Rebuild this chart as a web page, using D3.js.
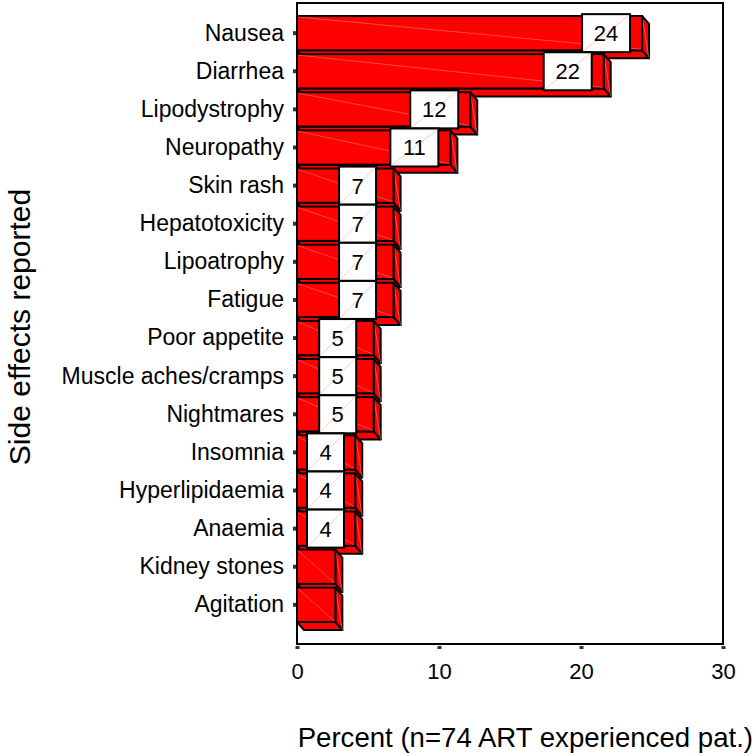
<!DOCTYPE html>
<meta charset="utf-8">
<style>
body { margin: 0; background: #fff; }
text { font-family: "Liberation Sans", Arial, sans-serif; fill: #000; }
</style>
<svg width="755" height="756"></svg>
<script src="https://d3js.org/d3.v7.min.js"></script>
<script>

var categories = ["Nausea", "Diarrhea", "Lipodystrophy", "Neuropathy", "Skin rash",
  "Hepatotoxicity", "Lipoatrophy", "Fatigue", "Poor appetite", "Muscle aches/cramps",
  "Nightmares", "Insomnia", "Hyperlipidaemia", "Anaemia", "Kidney stones", "Agitation"]
var percents = [24.3, 21.6, 12.2, 10.8, 6.8, 6.8, 6.8, 6.8, 5.4, 5.4, 5.4, 4.1, 4.1, 4.1, 2.7, 2.7]
var valueLabels = ["24", "22", "12", "11", "7", "7", "7", "7", "5", "5", "5", "4", "4", "4", "", ""]
var xTicks = [0, 10, 20, 30]

var svg = d3.select("svg")

var x = d3.scaleLinear().domain([0, 30]).range([297, 723])
var y = d3.scaleBand().domain(categories).range([16, 622]).paddingInner(0.1)

var dx = 7, dy = 8   // depth of the 3d bars

// frame
svg.append("rect")
  .attr("x", 297).attr("y", 3)
  .attr("width", 426).attr("height", 641)
  .attr("fill", "none").attr("stroke", "#000").attr("stroke-width", 2)

// bars, top to bottom so the next one hides the previous bottom face
categories.forEach(function(c, i) {
  var x0 = x(0), x1 = x(percents[i])
  var y0 = y(c), y1 = y(c) + y.bandwidth()
  var g = svg.append("g")

  // bottom face
  g.append("path")
    .attr("d", "M" + x0 + "," + y1 + "L" + (x0 + dx) + "," + (y1 + dy) + "L" + (x1 + dx) + "," + (y1 + dy) + "L" + x1 + "," + y1 + "Z")
    .attr("fill", "#ff0000").attr("stroke", "#000").attr("stroke-width", 2).attr("stroke-linejoin", "round")
  // side face
  g.append("path")
    .attr("d", "M" + x1 + "," + y0 + "L" + (x1 + dx) + "," + (y0 + dy) + "L" + (x1 + dx) + "," + (y1 + dy) + "L" + x1 + "," + y1 + "Z")
    .attr("fill", "#ff0000").attr("stroke", "#000").attr("stroke-width", 2).attr("stroke-linejoin", "round")
  g.append("line")
    .attr("x1", x1).attr("y1", y0).attr("x2", x1 + dx).attr("y2", y1 + dy)
    .attr("stroke", "#ff9a9a").attr("stroke-width", 0.5)
  // front face
  g.append("rect")
    .attr("x", x0).attr("y", y0)
    .attr("width", x1 - x0).attr("height", y1 - y0)
    .attr("fill", "#ff0000").attr("stroke", "#000").attr("stroke-width", 2)
  g.append("line")
    .attr("x1", x0 + 1).attr("y1", y0 + 1).attr("x2", x1 - 1).attr("y2", y1 - 1)
    .attr("stroke", "#ff8a8a").attr("stroke-width", 0.5)

  // value box
  var lab = valueLabels[i]
  if (lab) {
    var w = lab.length > 1 ? 48 : 37
    var h = 38
    var cx = Math.max(x1 - 36, x0 + 10 + w / 2)
    var cy = (y0 + y1) / 2
    g.append("rect")
      .attr("x", cx - w / 2).attr("y", cy - h / 2)
      .attr("width", w).attr("height", h)
      .attr("fill", "#fff").attr("stroke", "#000").attr("stroke-width", 2)
    g.append("line")
      .attr("x1", cx - w / 2 + 1).attr("y1", cy + h / 2 - 1)
      .attr("x2", cx + w / 2 - 1).attr("y2", cy - h / 2 + 1)
      .attr("stroke", "#ffb0b0").attr("stroke-width", 0.7)
    g.append("text")
      .attr("x", cx).attr("y", cy)
      .attr("dy", "0.36em")
      .attr("text-anchor", "middle")
      .style("font-size", "22px")
      .text(lab)
  }
})

// y axis
var yAxis = svg.append("g")
  .attr("transform", "translate(296,0)")
  .call(d3.axisLeft(y).tickSize(3).tickPadding(9))
yAxis.select(".domain").remove()
yAxis.selectAll(".tick line").attr("stroke", "#333").attr("stroke-width", 4)
yAxis.selectAll(".tick text")
  .style("font-size", "23px")

// x axis
var xAxis = svg.append("g")
  .attr("transform", "translate(0,646)")
  .call(d3.axisBottom(x).tickValues(xTicks).tickSize(3).tickPadding(14))
xAxis.select(".domain").remove()
xAxis.selectAll(".tick line").attr("stroke", "#333").attr("stroke-width", 4)
xAxis.selectAll(".tick text")
  .style("font-size", "22px")

svg.selectAll(".tick text").attr("fill", "#000")
svg.selectAll("g").attr("font-family", null)

// axis titles
svg.append("text")
  .attr("transform", "translate(30,327) rotate(-90)")
  .attr("text-anchor", "middle")
  .style("font-size", "30px")
  .text("Side effects reported")

svg.append("text")
  .attr("x", 753).attr("y", 747)
  .attr("text-anchor", "end")
  .style("font-size", "27.6px")
  .text("Percent (n=74 ART experienced pat.)")

</script>
